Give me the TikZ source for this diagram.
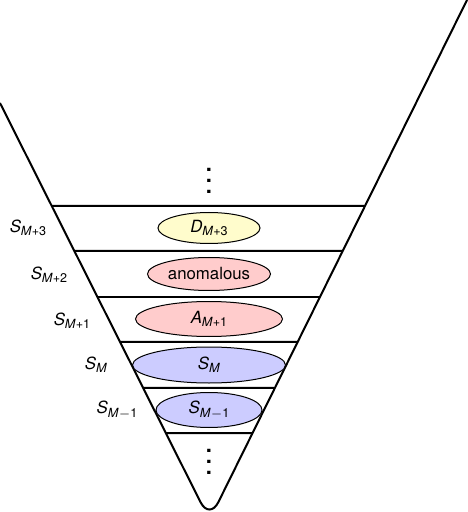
\documentclass[tikz,border=0pt]{standalone}
\usepackage{fontspec}
\setmainfont{TeX Gyre Heros}
\usepackage{tikz}
\usetikzlibrary{positioning, shapes.geometric, calc}

\newcommand{\setlab}[2]{\textit{#1}\raisebox{-1.6pt}{\fontsize{6.3}{7}\selectfont\textit{M}#2}}
\newcommand{\dotcol}{\vbox{\fontsize{11}{5.5}\bfseries\selectfont\baselineskip5.5pt\lineskiplimit0pt\hbox{.}\hbox{.}\hbox{.}}}

\begin{document}
\begin{tikzpicture}[
    x=0.5pt, y=-0.5pt,
    font=\fontsize{8.4}{10}\selectfont,
    cone/.style={line width=1pt, rounded corners=10pt},
    band/.style={line width=1pt},
    region/.style={ellipse, draw=black, line width=0.5pt, fill=#1,
                   inner sep=0pt, minimum height=16pt},
    setlabel/.style={inner sep=0pt},
    dotstack/.style={inner sep=0pt},
]
\useasboundingbox (0,0) rectangle (467,512);

% Cone
\coordinate (ctl) at (0,103);
\coordinate (tip) at (209.5,520);
\coordinate (ctr) at (467,0);
\draw[cone] (ctl) -- (tip) -- (ctr);

% Layers
\foreach \y in {206,251,297,342,388,433}
    \draw[band] ($(ctl)!{(\y-103)/417}!(tip)$) -- ($(ctr)!{\y/520}!(tip)$);

% Regions
\node[region=yellow!20, minimum width=51pt, minimum height=15.5pt] (d3) at (209,228) {\setlab{D}{+3}};
\node[region=red!20, minimum width=61.5pt, minimum height=16.5pt] (anom) at (209,274) {anomalous};
\node[region=red!20, minimum width=73.5pt, minimum height=17.5pt] (a1) at (209,319) {\setlab{A}{+1}};
\node[region=blue!20, minimum width=76.5pt, minimum height=18pt] (sm) at (209,365) {\setlab{S}{}};
\node[region=blue!20, minimum width=53pt, minimum height=17.5pt] (sm1) at (209,410) {\setlab{S}{$-$1}};

% Dots
\node[dotstack] (dtop) at (209,181) {\dotcol};
\node[dotstack] (dbot) at (209,462) {\dotcol};

% Set labels
\node[setlabel] (l3) at (28,228) {\setlab{S}{+3}};
\node[setlabel] (l2) at (49,275) {\setlab{S}{+2}};
\node[setlabel] (l1) at (72,321) {\setlab{S}{+1}};
\node[setlabel] (l0) at (96,365) {\setlab{S}{}};
\node[setlabel] (lm) at (117,410) {\setlab{S}{$-$1}};

\end{tikzpicture}
\end{document}
